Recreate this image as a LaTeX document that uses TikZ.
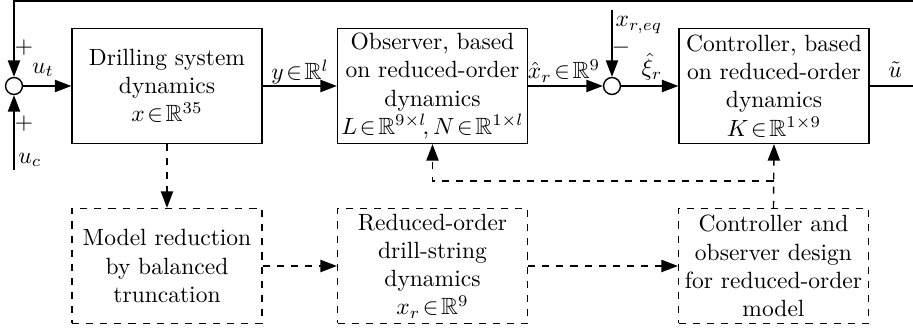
\documentclass[tikz,border=0pt]{standalone}
\usepackage{amssymb}
\usetikzlibrary{arrows.meta}
\newcommand{\tin}{\!\in\!}
\begin{document}
\begin{tikzpicture}[x=0.4255pt,y=-0.4255pt,
  line width=0.6pt,
  blk/.style={draw, rectangle, minimum width=80.8pt, minimum height=48.9pt, inner sep=0pt, align=center},
  dblk/.style={blk, dashed},
  sumc/.style={draw, circle, minimum size=7.2pt, inner sep=0pt},
  arr/.style={-{Triangle[length=7pt,width=5.2pt]}},
  lbl/.style={inner sep=0pt}]
\useasboundingbox (0,0) rectangle (913,328);
% blocks
\node[blk] (drill) at (167,86) {Drilling system\\dynamics\\$x\tin\mathbb{R}^{35}$};
\node[blk] (obs) at (432.5,86) {Observer, based\\on reduced-order\\dynamics\\$L\tin\mathbb{R}^{9\times l}\!,N\tin\mathbb{R}^{1\times l}$};
\node[blk] (ctrl) at (774,86) {Controller, based\\on reduced-order\\dynamics\\$K\tin\mathbb{R}^{1\times 9}$};
\node[dblk] (red) at (167,266) {Model reduction\\by balanced\\truncation};
\node[dblk] (rom) at (432.5,266) {Reduced-order\\drill-string\\dynamics\\$x_r\tin\mathbb{R}^{9}$};
\node[dblk] (des) at (773.5,266) {Controller and\\observer design\\for reduced-order\\model};
% summing junctions
\node[sumc] (s1) at (14,86) {};
\node[sumc] (s2) at (612,86) {};
% coordinates
\coordinate (uc) at (14,170);
\coordinate (xr) at (612,10);
\coordinate (cr) at (918,86);
\coordinate (tr) at (918,1);
\coordinate (tl) at (14,1);
\coordinate (br) at (773.5,181);
% solid connectors
\draw[arr] (s1) -- (drill);
\draw[arr] (drill) -- (obs);
\draw[arr] (obs) -- (s2);
\draw[arr] (s2) -- (ctrl);
\draw[arr] (ctrl.east) -- (cr) -- (tr) -- (tl) -- (s1.north);
\draw[arr] (uc) -- (s1.south);
\draw[arr] (xr) -- (s2.north);
% dashed connectors
\draw[arr, dashed] (drill.south) -- (red.north);
\draw[arr, dashed] (red.east) -- (rom.west);
\draw[arr, dashed] (rom.east) -- (des.west);
\draw[arr, dashed] (des.north) -- (ctrl.south);
\draw[arr, dashed] (br) -| (obs.south);
% labels
\node[lbl] (lut) at (43,70) {$u_t$};
\node[lbl] (luc) at (30,160) {$u_c$};
\node[lbl] (lp1) at (24,48) {$+$};
\node[lbl] (lp2) at (24,124) {$+$};
\node[lbl] (ly) at (300,72) {$y\tin\mathbb{R}^{l}$};
\node[lbl] (lxh) at (564,71) {$\hat{x}_r\tin\mathbb{R}^{9}$};
\node[lbl, anchor=west] (lxeq) at (615,25) {$x_{r,eq}$};
\node[lbl] (lm) at (621,48) {$-$};
\node[lbl] (lxi) at (652,67) {$\hat{\xi}_r$};
\node[lbl] (lu) at (895,70) {$\tilde{u}$};
\end{tikzpicture}
\end{document}
